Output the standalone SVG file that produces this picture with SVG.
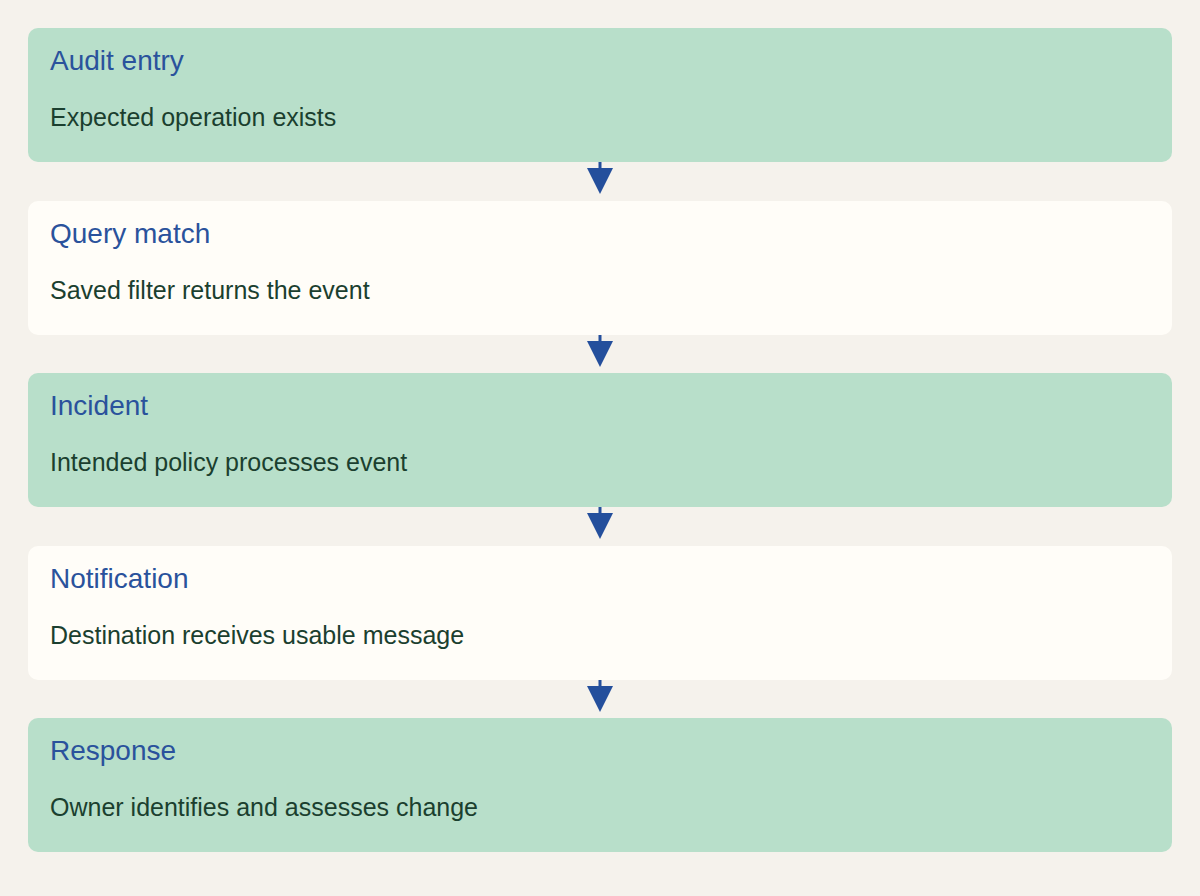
<svg xmlns="http://www.w3.org/2000/svg" width="1200" height="896" viewBox="0 0 1200 896">
<defs>
<style>
.bg{fill:#f5f2ec}
.g{fill:#b8dfca}
.w{fill:#fffdf8}
.t{font-family:"Liberation Sans",Arial,sans-serif;font-size:28px;fill:#2a529c}
.b{font-family:"Liberation Sans",Arial,sans-serif;font-size:25px;fill:#1b3f2f}
.c{stroke:#244f9c;stroke-width:3;fill:none}
.h{fill:#244f9c}
</style>
</defs>
<rect class="bg" x="0" y="0" width="1200" height="896"/>
<g id="connectors">
<line class="c" x1="600" y1="162" x2="600" y2="169"/>
<polygon class="h" points="587,168 613,168 600,194"/>
<line class="c" x1="600" y1="335" x2="600" y2="342"/>
<polygon class="h" points="587,341 613,341 600,367"/>
<line class="c" x1="600" y1="507" x2="600" y2="514"/>
<polygon class="h" points="587,513 613,513 600,539"/>
<line class="c" x1="600" y1="680" x2="600" y2="687"/>
<polygon class="h" points="587,686 613,686 600,712"/>
</g>
<g id="node-audit-entry">
<rect class="g" x="28" y="28" width="1144" height="134" rx="10"/>
<text class="t" x="50" y="70">Audit entry</text>
<text class="b" x="50" y="126">Expected operation exists</text>
</g>
<g id="node-query-match">
<rect class="w" x="28" y="201" width="1144" height="134" rx="10"/>
<text class="t" x="50" y="243">Query match</text>
<text class="b" x="50" y="299">Saved filter returns the event</text>
</g>
<g id="node-incident">
<rect class="g" x="28" y="373" width="1144" height="134" rx="10"/>
<text class="t" x="50" y="415">Incident</text>
<text class="b" x="50" y="471">Intended policy processes event</text>
</g>
<g id="node-notification">
<rect class="w" x="28" y="546" width="1144" height="134" rx="10"/>
<text class="t" x="50" y="588">Notification</text>
<text class="b" x="50" y="644">Destination receives usable message</text>
</g>
<g id="node-response">
<rect class="g" x="28" y="718" width="1144" height="134" rx="10"/>
<text class="t" x="50" y="760">Response</text>
<text class="b" x="50" y="816">Owner identifies and assesses change</text>
</g>
</svg>
